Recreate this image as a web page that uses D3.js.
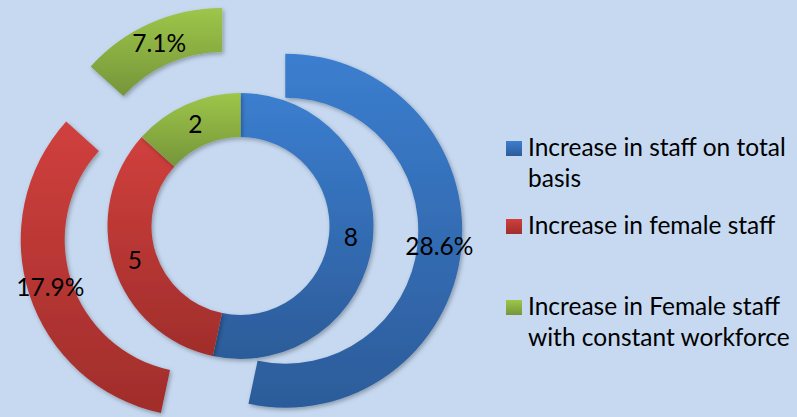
<!DOCTYPE html>
<html><head><meta charset="utf-8">
<script src="https://cdn.jsdelivr.net/npm/d3@7"></script>
<style>html,body{margin:0;padding:0;background:#c6d9f1;}svg{display:block;}</style>
</head><body>
<svg id="c" width="797" height="417"></svg>
<script>
const categories = ["Increase in staff on total basis", "Increase in female staff", "Increase in Female staff with constant workforce"];
const innerValues = [8, 5, 2];
const outerValues = [8, 5, 2];
const outerLabels = ["28.6%", "17.9%", "7.1%"];
const legendLines = [["Increase in staff on total", "basis"], ["Increase in female staff"], ["Increase in Female staff", "with constant workforce"]];
const colorsTop = ["#3b7ecf", "#d0403d", "#9dc649"];
const colorsBottom = ["#2c5c9a", "#a02d2b", "#76953a"];

const W = 797, H = 417;
const cx = 240.5, cy = 226;
const r0 = 89, r1 = 133, r2 = 177, explode = 45;
const FONT = "Lato, 'Liberation Sans', sans-serif";

const svg = d3.select("#c");
svg.append("rect").attr("width", W).attr("height", H).attr("fill", "#c6d9f1");

const defs = svg.append("defs");
categories.forEach((c, i) => {
  const g = defs.append("linearGradient").attr("id", "g" + i)
    .attr("x1", 0).attr("y1", 0).attr("x2", 0).attr("y2", 1);
  g.append("stop").attr("offset", "0%").attr("stop-color", colorsTop[i]);
  g.append("stop").attr("offset", "100%").attr("stop-color", colorsBottom[i]);
});
const f = defs.append("filter").attr("id", "sh").attr("x", "-20%").attr("y", "-20%").attr("width", "140%").attr("height", "140%");
f.append("feDropShadow").attr("dx", 1.5).attr("dy", 2).attr("stdDeviation", 2).attr("flood-color", "#000").attr("flood-opacity", 0.3);

const pie = d3.pie().sort(null).value(d => d);
const innerArcs = pie(innerValues);
const outerArcs = pie(outerValues);
const arcIn = d3.arc().innerRadius(r0).outerRadius(r1);
const arcOut = d3.arc().innerRadius(r1).outerRadius(r2);

const root = svg.append("g").attr("transform", `translate(${cx},${cy})`);

// outer exploded ring
const og = root.selectAll("g.out").data(outerArcs).enter().append("g").attr("class", "out")
  .attr("transform", d => {
    const m = (d.startAngle + d.endAngle) / 2;
    return `translate(${explode * Math.sin(m)},${-explode * Math.cos(m)})`;
  });
og.append("path").attr("d", arcOut).attr("fill", (d, i) => `url(#g${i})`).attr("filter", "url(#sh)");

// inner ring
const ig = root.selectAll("g.in").data(innerArcs).enter().append("g").attr("class", "in");
ig.append("path").attr("d", arcIn).attr("fill", (d, i) => `url(#g${i})`).attr("filter", "url(#sh)");

// labels
const fs = 24.5;
og.append("text").attr("transform", d => `translate(${arcOut.centroid(d)})`)
  .attr("text-anchor", "middle").attr("dy", "0.35em")
  .attr("font-family", FONT).attr("font-size", fs).attr("fill", "#000")
  .text((d, i) => outerLabels[i]);
ig.append("text").attr("transform", d => `translate(${arcIn.centroid(d)})`)
  .attr("text-anchor", "middle").attr("dy", "0.35em")
  .attr("font-family", FONT).attr("font-size", fs).attr("fill", "#000")
  .text(d => d.data);

// legend
const legY = [156, 234, 315];
const lg = svg.append("g");
legendLines.forEach((lines, i) => {
  lg.append("rect").attr("x", 506).attr("y", legY[i] - 15).attr("width", 16).attr("height", 15)
    .attr("fill", `url(#g${i})`);
  const t = lg.append("text").attr("x", 528).attr("y", legY[i])
    .attr("font-family", FONT).attr("font-size", 24.5).attr("fill", "#000");
  lines.forEach((l, j) => t.append("tspan").attr("x", 528).attr("dy", j === 0 ? 0 : 30.5).text(l));
});
</script>
</body></html>
